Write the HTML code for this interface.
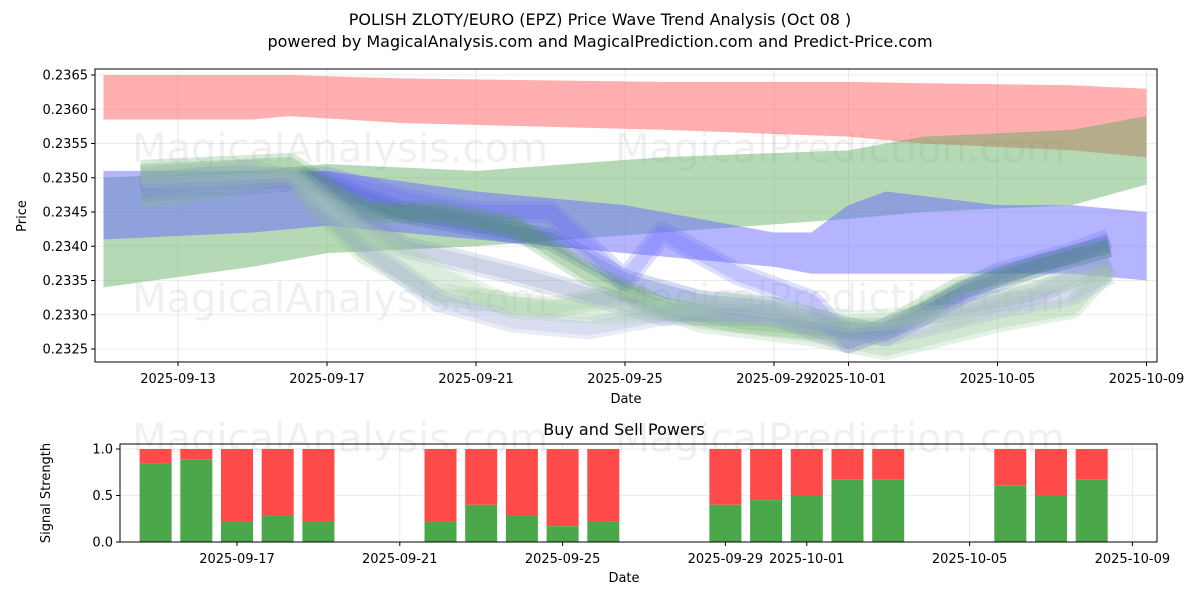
<!DOCTYPE html>
<html><head><meta charset="utf-8"><style>
body{margin:0;background:#fff;font-family:"Liberation Sans","DejaVu Sans",sans-serif}
svg text{font-family:"DejaVu Sans","Liberation Sans",sans-serif}
</style></head><body>
<svg id="c" width="1200" height="600" xmlns="http://www.w3.org/2000/svg">
<text x="600" y="25" text-anchor="middle" font-size="16">POLISH ZLOTY/EURO (EPZ) Price Wave Trend Analysis (Oct 08 )</text>
<text x="600" y="47" text-anchor="middle" font-size="16">powered by MagicalAnalysis.com and MagicalPrediction.com and Predict-Price.com</text>
<g id="topPlot"></g>
<g id="botPlot"></g>
</svg>
<script>
// ---- data ----
const yTicks=[0.2325,0.2330,0.2335,0.2340,0.2345,0.2350,0.2355,0.2360,0.2365];
const topDateTicks=[2,6,10,14,18,20,24,28]; // days from 2025-09-11
const topDateLabels=["2025-09-13","2025-09-17","2025-09-21","2025-09-25","2025-09-29","2025-10-01","2025-10-05","2025-10-09"];
const redDays=[0,4,5,8,15,20,22,26,28];
const redUpper=[0.2365,0.2365,0.2365,0.23645,0.2364,0.2364,0.23638,0.23635,0.2363];
const redLower=[0.23585,0.23585,0.2359,0.2358,0.2357,0.2356,0.2355,0.2354,0.2353];
const greenDays=[0,4,6,10,15,20,22,26,28];
const greenUpper=[0.2350,0.2351,0.2352,0.2351,0.2353,0.2354,0.2356,0.2357,0.2359];
const greenLower=[0.2334,0.2337,0.2339,0.2340,0.2342,0.2344,0.2345,0.2346,0.2349];
const blueDays=[0,4,6,10,14,18,19,20,21,24,26,28];
const blueUpper=[0.2351,0.2351,0.2351,0.2348,0.2346,0.2342,0.2342,0.2346,0.2348,0.2346,0.2346,0.2345];
const blueLower=[0.2341,0.2342,0.2343,0.2341,0.2339,0.2337,0.2336,0.2336,0.2336,0.2336,0.2336,0.2335];
const waveDays=[[1,3,5,6,8,10,12,14,16,18,20,21,23,25,27],[1,6,8,10,12,13,14,15,17,19,20,22,24,26,27],[1,5,7,9,11,13,15,17,19,21,23,25,27],[1,5,7,9,12,14,16,19,21,24,26,27],[1,4,6,8,11,13,15,18,20,22,25,27],[1,5,7,9,11,13,16,19,21,24,26,27],[1,5,7,9,11,14,17,20,23,25,27]];
const waveVals=[[0.2349,0.2350,0.2350,0.2349,0.2345,0.2343,0.2341,0.2335,0.2332,0.2331,0.2328,0.2327,0.2333,0.2337,0.2340],
[0.2348,0.2350,0.2347,0.2345,0.2345,0.2340,0.2335,0.2342,0.2336,0.2332,0.2326,0.2330,0.2336,0.2339,0.2341],
[0.2351,0.2352,0.2345,0.2345,0.2343,0.2336,0.2331,0.2329,0.2328,0.2328,0.2334,0.2337,0.2340],
[0.2347,0.2350,0.2339,0.2333,0.2331,0.2333,0.2329,0.2327,0.2325,0.2329,0.2331,0.2337],
[0.2350,0.2351,0.2348,0.2340,0.2336,0.2333,0.2330,0.2330,0.2326,0.2330,0.2333,0.2338],
[0.2349,0.2350,0.2340,0.2332,0.2329,0.2328,0.2331,0.2329,0.2327,0.2331,0.2333,0.2336],
[0.2350,0.2351,0.2342,0.2336,0.2331,0.2330,0.2332,0.2329,0.2330,0.2334,0.2336]];
const waveColors=["#3a55c0","#6a6aff","#4a9a4a","#8ac08a","#8090c0","#9aa8d8","#a8d0a8"];
const barDays=[-2,-1,0,1,2,5,6,7,8,9,12,13,14,15,16,19,20,21]; // days from 2025-09-17
const buyVals=[0.84,0.89,0.22,0.28,0.22,0.22,0.40,0.28,0.17,0.22,0.40,0.45,0.50,0.67,0.67,0.61,0.50,0.67];
const botDateTicks=[0,4,8,12,14,18,22];
const botDateLabels=["2025-09-17","2025-09-21","2025-09-25","2025-09-29","2025-10-01","2025-10-05","2025-10-09"];
const botYTicks=[0,0.5,1.0];
// ---- axes ----
const NS="http://www.w3.org/2000/svg";
const tx=d=>178+(d-2)*37.25, ty=v=>75+(0.2365-v)/0.0005*34.25;
const bx=d=>237+d*40.7, by=v=>542-v*93;
function mk(p,t,a){const e=document.createElementNS(NS,t);for(const k in a)e.setAttribute(k,a[k]);p.appendChild(e);return e;}
const topG=document.getElementById('topPlot'), botG=document.getElementById('botPlot');
yTicks.forEach(v=>{const l=mk(topG,'line',{x1:95,x2:1157,y1:ty(v),y2:ty(v),stroke:'#e6e6e6','stroke-width':0.8});

});
topDateTicks.forEach(d=>{const l=mk(topG,'line',{x1:tx(d),x2:tx(d),y1:69,y2:362,stroke:'#e6e6e6','stroke-width':0.8});

});
[[340,150],[840,150],[340,300],[840,300]].forEach((p,i)=>{const t=mk(topG,'text',{x:p[0],y:p[1]+12,'text-anchor':'middle','font-size':40,fill:'#000','fill-opacity':0.06});t.textContent=i%2?'MagicalPrediction.com':'MagicalAnalysis.com';

});
function band(days,up,lo,col,op,name){let pts=days.map((d,i)=>tx(d)+','+ty(up[i]));for(let i=days.length-1;i>=0;i--)pts.push(tx(days[i])+','+ty(lo[i]));
const p=mk(topG,'polygon',{points:pts.join(' '),fill:col,'fill-opacity':op});

}
band(redDays,redUpper,redLower,'#ff6060',0.5,'red-band');
band(greenDays,greenUpper,greenLower,'#5aaa5a',0.45,'green-band');
band(blueDays,blueUpper,blueLower,'#6a6aff',0.5,'blue-band');
waveVals.forEach((vals,k)=>{const pts=vals.map((v,i)=>tx(waveDays[k][i])+','+ty(v)).join(' ');
[22,14].forEach(w=>{const pl=mk(topG,'polyline',{points:pts,fill:'none',stroke:waveColors[k],'stroke-width':w,'stroke-opacity':0.22,'stroke-linejoin':'round'});

});});
mk(topG,'rect',{x:95,y:69,width:1062,height:293,fill:'none',stroke:'#000','stroke-width':1});
yTicks.forEach(v=>{mk(topG,'line',{x1:91,x2:95,y1:ty(v),y2:ty(v),stroke:'#000'});const t=mk(topG,'text',{x:88,y:ty(v)+4.5,'text-anchor':'end','font-size':13});t.textContent=v.toFixed(4);

});
topDateTicks.forEach((d,i)=>{mk(topG,'line',{x1:tx(d),x2:tx(d),y1:362,y2:366,stroke:'#000'});const t=mk(topG,'text',{x:tx(d),y:383,'text-anchor':'middle','font-size':13});t.textContent=topDateLabels[i];

});
let t=mk(topG,'text',{x:626,y:403,'text-anchor':'middle','font-size':13});t.textContent='Date';


t=mk(topG,'text',{x:26,y:216,'text-anchor':'middle','font-size':13,transform:'rotate(-90 26 216)'});t.textContent='Price';


t=mk(botG,'text',{x:624,y:435,'text-anchor':'middle','font-size':16});t.textContent='Buy and Sell Powers';


botYTicks.forEach(v=>{const l=mk(botG,'line',{x1:120,x2:1157,y1:by(v),y2:by(v),stroke:'#e6e6e6','stroke-width':0.8});

});
botDateTicks.forEach(d=>{const l=mk(botG,'line',{x1:bx(d),x2:bx(d),y1:444,y2:542,stroke:'#e6e6e6','stroke-width':0.8});

});
[[340,440],[840,440]].forEach((p,i)=>{const w=mk(botG,'text',{x:p[0],y:p[1]+12,'text-anchor':'middle','font-size':40,fill:'#000','fill-opacity':0.06});w.textContent=i?'MagicalPrediction.com':'MagicalAnalysis.com';

});
barDays.forEach((d,i)=>{const x=bx(d)-16,g=buyVals[i];
const r1=mk(botG,'rect',{x:x,y:by(1),width:32,height:by(g)-by(1),fill:'#ff4a4a'});


const r2=mk(botG,'rect',{x:x,y:by(g),width:32,height:by(0)-by(g),fill:'#4aa84a'});

});
mk(botG,'rect',{x:120,y:444,width:1037,height:98,fill:'none',stroke:'#000','stroke-width':1});
botYTicks.forEach(v=>{mk(botG,'line',{x1:116,x2:120,y1:by(v),y2:by(v),stroke:'#000'});const l=mk(botG,'text',{x:113,y:by(v)+4.5,'text-anchor':'end','font-size':13});l.textContent=v.toFixed(1);

});
botDateTicks.forEach((d,i)=>{mk(botG,'line',{x1:bx(d),x2:bx(d),y1:542,y2:546,stroke:'#000'});const l=mk(botG,'text',{x:bx(d),y:563,'text-anchor':'middle','font-size':13});l.textContent=botDateLabels[i];

});
t=mk(botG,'text',{x:624,y:582,'text-anchor':'middle','font-size':13});t.textContent='Date';


t=mk(botG,'text',{x:50,y:493,'text-anchor':'middle','font-size':13,transform:'rotate(-90 50 493)'});t.textContent='Signal Strength';


</script>
</body></html>
